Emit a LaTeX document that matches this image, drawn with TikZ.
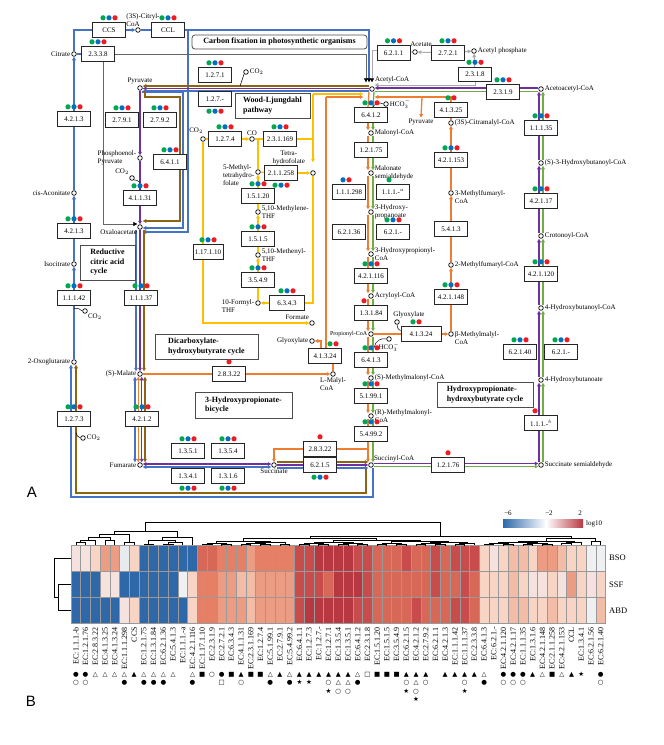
\documentclass[tikz,border=0pt]{standalone}
\usepackage{fontspec}
\setmainfont{Liberation Serif}
\newfontfamily\symfont{DejaVu Sans}
\newfontfamily\panelfont{Liberation Sans}
\usetikzlibrary{arrows.meta,backgrounds}

\definecolor{cyblue}{RGB}{68,114,196}
\definecolor{cypurple}{RGB}{112,48,160}
\definecolor{cybrown}{RGB}{140,100,20}
\definecolor{cyorange}{RGB}{237,125,49}
\definecolor{cygreen}{RGB}{112,173,71}
\definecolor{cyyellow}{RGB}{255,192,0}
\definecolor{cygray}{RGB}{170,170,170}
\definecolor{dg}{RGB}{0,166,80}
\definecolor{db}{RGB}{0,112,192}
\definecolor{dr}{RGB}{237,28,36}
\definecolor{hb}{RGB}{46,104,168}
\definecolor{hw}{RGB}{238,240,242}
\definecolor{hq}{RGB}{230,235,240}
\definecolor{h1}{RGB}{245,226,222}
\definecolor{h2}{RGB}{248,212,196}
\definecolor{h3}{RGB}{243,188,166}
\definecolor{h4}{RGB}{236,156,130}
\definecolor{h5}{RGB}{229,128,103}
\definecolor{h6}{RGB}{215,104,88}
\definecolor{h7}{RGB}{200,76,76}
\definecolor{h8}{RGB}{184,56,66}

% coloured dots above / below an enzyme box
\newcommand{\dotsup}[2]{\foreach \dc/\dx in {#2}{\fill[\dc] ([shift={(\dx,-4.6)}]#1.north) circle (2.6pt);}}
\newcommand{\dotsdn}[2]{\foreach \dc/\dx in {#2}{\fill[\dc] ([shift={(\dx,4.6)}]#1.south) circle (2.6pt);}}
\newcommand{\gbrup}[1]{\dotsup{#1}{dg/-6,db/0,dr/6}}
\newcommand{\gbrdn}[1]{\dotsdn{#1}{dg/-6,db/0,dr/6}}

\begin{document}
\begin{tikzpicture}[x=1pt,y=-1pt,>={Triangle[length=3.6pt,width=3.6pt]},
  enz/.style={draw=black!85, line width=0.7pt, fill=white, minimum width=33pt, minimum height=14.5pt, inner sep=0pt, font=\fontsize{7}{8}\selectfont},
  met/.style={circle, draw, line width=0.7pt, fill=white, inner sep=0pt, minimum size=4.6pt},
  lab/.style={font=\fontsize{7}{7.8}\selectfont, inner sep=1pt, align=left},
  ttl/.style={draw=black!70, line width=0.8pt, fill=white, font=\fontsize{8}{9.5}\selectfont\bfseries, align=left, inner sep=2pt},
  flow/.style={line width=1.3pt},
  lblue/.style={flow,cyblue}, lpurple/.style={flow,cypurple}, lbrown/.style={flow,cybrown},
  lorange/.style={flow,cyorange}, lgreen/.style={flow,cygreen}, lyellow/.style={flow,cyyellow},
  lgray/.style={line width=1pt,cygray}, ldark/.style={line width=0.7pt,black!60},
  curl/.style={line width=0.5pt,black},
  btip/.style={-{Triangle[length=4pt,width=4pt,color=black]}, shorten >=4pt},
  ar/.style={->}, na/.style={},
  cell/.style={draw=black!40, line width=0.6pt},
  dend/.style={line width=0.8pt,black},
  clab/.style={font=\fontsize{8}{9}\selectfont, inner sep=0pt},
  rlab/.style={font=\fontsize{8.5}{9}\selectfont, inner sep=0pt},
  sym/.style={font=\symfont\fontsize{6.5}{8.4}\selectfont, align=center, inner sep=0pt},
  leg/.style={font=\fontsize{7}{8}\selectfont, inner sep=0pt},
  panel/.style={font=\panelfont\fontsize{15}{15}\selectfont, inner sep=0pt}]

\useasboundingbox (0,0) rectangle (664,745);

% pathway titles
\node[ttl, rounded corners=3pt, minimum width=175pt, minimum height=14pt, align=center] (tCarbon) at (279.5,42) {Carbon fixation in photosynthetic organisms};
\node[ttl, minimum width=75pt, minimum height=25pt] (tWL) at (272.5,105.5) {Wood-Ljungdahl\\pathway};
\node[ttl, minimum width=55pt, minimum height=35pt] (tRCA) at (107.5,262.5) {Reductive\\citric acid\\cycle};
\node[ttl, minimum width=103pt, minimum height=25pt] (tDHB) at (206.5,346.5) {Dicarboxylate-\\hydroxybutyrate cycle};
\node[ttl, minimum width=97pt, minimum height=26pt] (t3HP) at (243.5,405) {3-Hydroxypropionate-\\bicycle};
\node[ttl, minimum width=96pt, minimum height=25pt] (tHPHB) at (485,394.5) {Hydroxypropionate-\\hydroxybutyrate cycle};

% metabolites
\node[met, label={[lab]left:Citrate}] (mCit) at (74,54) {};
\node[met, label={[lab,xshift=5pt]above:{(3S)-Citryl-\\CoA}}] (mCitryl) at (138,30) {};
\node[met, label={[lab]above:Pyruvate}] (mPyr) at (140,88) {};
\node[met, label={[lab,yshift=3pt]above right:Acetyl-CoA}] (mAcCoA) at (372,89) {};
\node[met, label={[lab,xshift=6pt,yshift=2pt]above:Acetate}] (mAcet) at (415,52) {};
\node[met, label={[lab]right:Acetyl phosphate}] (mAcP) at (474,51) {};
\node[met, label={[lab]right:Acetoacetyl-CoA}] (mAcAc) at (541,89) {};
\node[met, label={[lab]right:HCO$_3^-$}] (mHCO3a) at (386,104) {};
\node[met, label={[lab]right:CO$_2$}] (mCO2a) at (246,72) {};
\node[met, label={[lab]right:Malonyl-CoA}] (mMalCoA) at (371,133) {};
\node[met, label={[lab]right:(3S)-Citramalyl-CoA}] (mCitMal) at (451,123) {};
\node[met, label={[lab]right:(S)-3-Hydroxybutanoyl-CoA}] (mHBCoA) at (541,163) {};
\node[lab] (tPyr) at (421,122) {Pyruvate};
\node[met, label={[lab]left:{Phosphoenol-\\Pyruvate}}] (mPEP) at (140,158) {};
\node[met, label={[lab]above left:CO$_2$}] (mCO2b) at (132,178) {};
\node[met, label={[lab]below left:Oxaloacetate}] (mOAA) at (140,227) {};
\node[met, label={[lab]left:cis-Aconitate}] (mCisAc) at (74,193) {};
\node[met, label={[lab]left:Isocitrate}] (mIsoc) at (74,264) {};
\node[met, label={[lab]below right:CO$_2$}] (mCO2c) at (85,311) {};
\node[met, label={[lab]left:2-Oxoglutarate}] (m2OG) at (74,362) {};
\node[met, label={[lab]right:CO$_2$}] (mCO2d) at (83,438) {};
\node[met, label={[lab]left:(S)-Malate}] (mMal) at (140,374) {};
\node[met, label={[lab]left:Fumarate}] (mFum) at (140,465) {};
\node[met, label={[lab]below:Succinate}] (mSuc) at (274,465) {};
\node[met, label={[lab]above right:Succinyl-CoA}] (mSucCoA) at (371,465) {};
\node[met, label={[lab]right:Succinate semialdehyde}] (mSSA) at (541,465) {};
\node[met, label={[lab]right:4-Hydroxybutanoate}] (m4HB) at (541,380) {};
\node[met, label={[lab]right:4-Hydroxybutanoyl-CoA}] (m4HBCoA) at (541,308) {};
\node[met, label={[lab]right:Crotonoyl-CoA}] (mCro) at (541,236) {};
\node[met, label={[lab]right:{Malonate\\semialdehyde}}] (mMSA) at (371,173) {};
\node[met, label={[lab]right:{3-Hydroxy-\\propanoate}}] (m3HP) at (371,212) {};
\node[met, label={[lab]right:{3-Hydroxypropionyl-\\CoA}}] (m3HPCoA) at (371,254) {};
\node[met, label={[lab]right:Acryloyl-CoA}] (mAcr) at (371,296) {};
\node[met, label={[lab,font=\fontsize{6}{7}\selectfont]left:Propionyl-CoA}] (mProp) at (371,334) {};
\node[met, label={[lab]below:HCO$_3^-$}] (mHCO3b) at (389,339) {};
\node[met, label={[lab,xshift=12pt]above:Glyoxylate}] (mGly2) at (397,322) {};
\node[met, label={[lab]right:(S)-Methylmalonyl-CoA}] (mSMM) at (371,378) {};
\node[met, label={[lab]right:{(R)-Methylmalonyl-\\CoA}}] (mRMM) at (371,416) {};
\node[met, label={[lab,yshift=-4pt]right:{β-Methylmalyl-\\CoA}}] (mBMM) at (451,334) {};
\node[met, label={[lab,yshift=-4pt]right:{3-Methylfumaryl-\\CoA}}] (m3MF) at (451,193) {};
\node[met, label={[lab]right:2-Methylfumaryl-CoA}] (m2MF) at (451,265) {};
\node[met, label={[lab]left:Glyoxylate}] (mGly1) at (312,341) {};
\node[met, label={[lab]below:{L-Malyl-\\CoA}}] (mLMal) at (333,374) {};
\node[met, label={[lab]above left:Formate}] (mForm) at (312,323) {};
\node[met, label={[lab,yshift=-3pt]left:{10-Formyl-\\THF}}] (m10F) at (258,303) {};
\node[met, label={[lab]right:{5,10-Methenyl-\\THF}}] (mMeny) at (258,255) {};
\node[met, label={[lab]right:{5,10-Methylene-\\THF}}] (mMeth) at (258,212) {};
\node[met, label={[lab,yshift=-3pt]left:{5-Methyl-\\tetrahydro-\\folate}}] (m5M) at (258,172) {};
\node[met, label={[lab,align=center,xshift=-5pt,yshift=5pt]above left:{Tetra-\\hydrofolate}}] (mTHF) at (313,173) {};
\node[met, label={[lab,xshift=3pt,yshift=2pt]above left:CO$_2$}] (mCO2e) at (203,139) {};
\node[met, label={[lab]above:CO}] (mCO) at (252,139) {};

% enzymes
\node[enz] (eCCS) at (109,30) {CCS};
\node[enz] (eCCL) at (168,30) {CCL};
\node[enz] (e2338) at (98,54) {2.3.3.8};
\node[enz] (e4213a) at (74,119) {4.2.1.3};
\node[enz] (e2791) at (122,120) {2.7.9.1};
\node[enz] (e2792) at (160,120) {2.7.9.2};
\node[enz] (e1271) at (215,75) {1.2.7.1};
\node[enz] (e127x) at (215,99) {1.2.7.-};
\node[enz] (e1274) at (225,139) {1.2.7.4};
\node[enz] (e231169) at (280,139) {2.3.1.169};
\node[enz] (e6411) at (170,162) {6.4.1.1};
\node[enz] (e41131) at (140,198) {4.1.1.31};
\node[enz] (e4213b) at (74,231) {4.2.1.3};
\node[enz] (e11142) at (74,298) {1.1.1.42};
\node[enz] (e11137) at (141,298) {1.1.1.37};
\node[enz] (e1273) at (74,419) {1.2.7.3};
\node[enz] (e4212) at (142,419) {4.2.1.2};
\node[enz] (e1351) at (188,451) {1.3.5.1};
\node[enz] (e1354) at (228,451) {1.3.5.4};
\node[enz] (e1341) at (188,476) {1.3.4.1};
\node[enz] (e1316) at (228,476) {1.3.1.6};
\node[enz] (e28322a) at (229,374) {2.8.3.22};
\node[enz] (e28322b) at (320,449) {2.8.3.22};
\node[enz] (e6215) at (320,465) {6.2.1.5};
\node[enz] (e211258) at (281,173) {2.1.1.258};
\node[enz] (e1520) at (258,196) {1.5.1.20};
\node[enz] (e1515) at (258,239) {1.5.1.5};
\node[enz] (e3549) at (258,280) {3.5.4.9};
\node[enz, minimum width=35pt] (e6343) at (287,303) {6.3.4.3};
\node[enz, minimum width=30pt] (e117110) at (208,252) {1.17.1.10};
\node[enz] (e41324a) at (325,356) {4.1.3.24};
\node[enz] (e6211) at (393.5,53) {6.2.1.1};
\node[enz] (e2721) at (448,53) {2.7.2.1};
\node[enz] (e2318) at (475,74.5) {2.3.1.8};
\node[enz] (e2319) at (503,92) {2.3.1.9};
\node[enz] (e6412) at (371,115) {6.4.1.2};
\node[enz] (e41325) at (451,110) {4.1.3.25};
\node[enz] (e12175) at (371,150) {1.2.1.75};
\node[enz] (e421153) at (451,160) {4.2.1.153};
\node[enz] (e11135) at (541,128) {1.1.1.35};
\node[enz] (e111298) at (349,192) {1.1.1.298};
\node[enz] (e111xa) at (393,192) {1.1.1.-$^{a}$};
\node[enz] (e62136) at (349,232) {6.2.1.36};
\node[enz] (e621xa) at (393,232) {6.2.1.-};
\node[enz] (e421116) at (371,276) {4.2.1.116};
\node[enz] (e13184) at (371,313) {1.3.1.84};
\node[enz] (e5413) at (451,229) {5.4.1.3};
\node[enz] (e421148) at (451,297) {4.2.1.148};
\node[enz] (e42117) at (541,201) {4.2.1.17};
\node[enz] (e421120) at (541,274) {4.2.1.120};
\node[enz, minimum width=40pt] (e41324b) at (421,334) {4.1.3.24};
\node[enz] (e6413) at (371,360) {6.4.1.3};
\node[enz] (e51991) at (371,396) {5.1.99.1};
\node[enz] (e54992) at (371,434) {5.4.99.2};
\node[enz] (e12176) at (448,465) {1.2.1.76};
\node[enz] (e62140) at (520,352) {6.2.1.40};
\node[enz] (e621xb) at (561,352) {6.2.1.-};
\node[enz] (e111xb) at (541,423) {1.1.1.-$^{b}$};

\gbrup{eCCS} \gbrup{eCCL} \gbrup{e2338} \gbrup{e4213a} \gbrup{e2791} \gbrup{e2792}
\gbrup{e1271} \gbrdn{e127x} \gbrup{e1274} \gbrup{e231169} \gbrup{e6411} \gbrup{e41131}
\gbrup{e4213b} \gbrup{e11142} \gbrup{e11137} \gbrup{e1273} \gbrup{e4212}
\gbrup{e1351} \gbrup{e1354} \gbrdn{e1341} \gbrdn{e1316} \gbrdn{e6215}
\dotsup{e28322a}{dr/0} \dotsup{e28322b}{dr/0}
\gbrdn{e211258} \gbrup{e1520} \gbrup{e1515} \gbrup{e3549} \gbrup{e6343} \gbrup{e117110}
\dotsup{e41324a}{dg/5,dr/11}
\gbrup{e6211} \gbrup{e2721} \gbrup{e2318} \gbrup{e2319} \gbrup{e6412}
\dotsup{e41325}{dg/-3,dr/3} \gbrup{e421153} \gbrup{e11135}
\dotsup{e111298}{db/-6,dr/0} \dotsup{e111xa}{dg/-4} \gbrup{e621xa} \gbrup{e421116}
\dotsup{e13184}{dr/-7} \gbrup{e421148} \gbrup{e42117} \gbrup{e421120}
\dotsup{e41324b}{dg/-8,dr/-2} \gbrup{e6413} \gbrup{e51991} \gbrup{e54992}
\dotsup{e12176}{dr/0} \gbrup{e62140} \gbrup{e621xb} \dotsup{e111xb}{dr/-6}

\coordinate (jB1) at (188,30);
\coordinate (pB1) at (183,92);
\coordinate (pBr1) at (180,97);
\coordinate (jY) at (313,94);
\coordinate (jO) at (326,97);
\coordinate (jPy) at (422,97);
\coordinate (jOs) at (368,449);
\coordinate (fB) at (71,497);
\coordinate (fBr) at (76,493);

\begin{scope}[on background layer]
% reductive citric acid cycle
\draw[lblue] (mCit.north) |- (eCCS.west);
\draw[lblue,->] (eCCS) -- (mCitryl);
\draw[lblue] (mCitryl) -- (eCCL);
\draw[lblue,btip] (eCCL.east) -| ([xshift=-3pt]mAcCoA.north);
\draw[lblue,->] (jB1) |- ([yshift=-5pt]mOAA.east);
\draw[lblue] (mCit) -- (e2338);
\foreach \a/\b/\t in {m2OG/e11142/na, e11142/mIsoc/ar, mIsoc/e4213b/na, e4213b/mCisAc/ar, mCisAc/e4213a/na, e4213a/mCit/ar}
  \draw[lblue,\t] (\a) -- (\b);
\draw[lblue,->] ([xshift=-3pt]e1273.north) -- ([xshift=-3pt]m2OG.south);
\draw[lbrown,->] ([xshift=2pt]e1273.north) -- ([xshift=2pt]m2OG.south);
\draw[lblue] ([xshift=2pt]mSucCoA.south) |- (fB) -- ([xshift=-3pt]e1273.south);
\draw[lbrown] ([xshift=-5pt]mSucCoA.south) |- (fBr) -- ([xshift=2pt]e1273.south);
% pyruvate, oxaloacetate, malate, fumarate
\draw[lbrown,->] ([yshift=3pt]mAcCoA.west) -- ([yshift=3pt]mAcCoA.west -| mPyr.east);
\draw[lpurple,->] ([yshift=0.5pt]mAcCoA.west) -- ([yshift=0.5pt]mAcCoA.west -| mPyr.east);
\draw[lblue,->] ([yshift=-2pt]mAcCoA.west) -- ([yshift=-2pt]mAcCoA.west -| mPyr.east);
\draw[lblue,->] ([xshift=3pt]mPyr.south) |- (pB1) |- ([yshift=-1pt]mOAA.east);
\draw[lbrown] ([xshift=5pt]mPyr.south) |- (pBr1) -- (pBr1 |- e6411.north);
\draw[lbrown,->] (pBr1 |- e6411.south) |- ([yshift=6pt]mOAA.east);
\draw[lpurple,->] (mPyr) -- (mPEP);
\draw[lpurple,->] (mPEP) -- (mOAA);
\draw[ldark,btip,shorten >=0pt] ([xshift=5pt]e2338.south) |- ([yshift=3pt]mOAA.west);
\draw[lblue,->] ([xshift=-4pt]mOAA.south) -- ([xshift=-4pt]mMal.north);
\draw[lpurple,->] (mOAA) -- (mMal);
\draw[lbrown,->] ([xshift=4pt]mOAA.south) -- ([xshift=4pt]mMal.north);
\foreach \c/\dx in {lblue/-5, lorange/-1.7, lpurple/1.7, lbrown/5}
  \draw[\c,<->] ([xshift=\dx pt]mMal.south) -- ([xshift=\dx pt]mFum.north);
\draw[lpurple,<->] ([yshift=1pt]mFum.east) -- ([yshift=1pt]mSuc.west);
\draw[lblue,<->] ([yshift=-2pt]mFum.east) -- ([yshift=-2pt]mSuc.west);
\draw[lbrown,->] ([yshift=3pt]mSuc.east) -- ([yshift=3pt]mSucCoA.west);
\draw[lpurple,->] (mSuc) -- (mSucCoA);
\draw[lblue,->] ([yshift=-3pt]mSuc.east) -- ([yshift=-3pt]mSucCoA.west);
% acetyl-CoA side reactions
\draw[ldark,btip] (e2338.east) -| ([xshift=-6pt]mAcCoA.north);
\draw[lgray,btip] ([yshift=3pt]e6211.west) -| (mAcCoA.north);
\draw[lgray] (mAcet) -- (e6211);
\draw[lgray,->] (e2721) -- (mAcet);
\draw[lgray,->] (e2721) -- (mAcP);
\draw[lgray,->] (e2318) -- (mAcP);
\draw[lgray,->] (e2318.south) |- ([yshift=4pt]mAcCoA.east);
\draw[lpurple,->] ([yshift=1pt]mAcAc.west) -- ([yshift=1pt]mAcCoA.east);
\draw[lgreen] ([yshift=-2.5pt]mAcCoA.east) -- ([yshift=-2.5pt]mAcAc.west);
\draw[curl] (mCO2a.south west) -- ++(-4,12);
% Wood-Ljungdahl pathway
\draw[lyellow,->] (jY) -- ([xshift=-6pt]jY -| mAcCoA.west);
\draw[lyellow] (jY) -- (e231169.east -| jY);
\draw[lyellow] (e231169) -- (e231169.east -| jY);
\draw[lyellow,->,shorten >=8pt] (e231169.east -| jY) -- (mTHF.north);
\draw[lyellow] (mTHF.south) |- (e6343.east);
\draw[lyellow,->] (e6343) -- (m10F);
\draw[lyellow] (mCO2e) -- (mCO2e |- e117110.north);
\draw[lyellow,->] ([xshift=-5pt]e117110.south) |- (mForm.west);
\draw[lyellow] (mCO2e) -- (e1274);
\draw[lyellow,->] (e1274) -- (mCO);
\draw[lyellow] (mCO) -- (e231169);
\draw[lyellow] (m5M.north) -- (m5M |- mCO);
\draw[lyellow] (m5M) -- (e211258);
\draw[lyellow,->] (e211258) -- (mTHF);
\foreach \a/\b/\t in {m10F/e3549/na, e3549/mMeny/ar, mMeny/e1515/na, e1515/mMeth/ar, mMeth/e1520/na, e1520/m5M/ar}
  \draw[lyellow,\t] (\a) -- (\b);
% 3-hydroxypropionate bicycle
\draw[lorange,->] (jO) -- ([xshift=-6pt]jO -| mAcCoA.west);
\draw[lorange] (e41324a.north -| jO) -- (jO);
\draw[lorange,->] ([xshift=-4pt]e41324a.north) |- (mGly1.east);
\draw[lorange] (mLMal) -- (mLMal |- e41324a.south);
\draw[lorange] (mMal) -- (e28322a);
\draw[lorange,->] (e28322a) -- (mLMal);
\draw[lorange] (e41325.north) |- (jPy);
\draw[lorange,->] (jPy) -- ([yshift=-8pt]mAcCoA.east);
\draw[lorange,->] (jPy) -- (tPyr.north);
\foreach \a/\b/\t in {mAcCoA/e6412/na, e6412/mMalCoA/ar, mMalCoA/e12175/na, e12175/mMSA/ar, mMSA/m3HP/ar, m3HP/m3HPCoA/ar, m3HPCoA/e421116/na, e421116/mAcr/ar, mAcr/e13184/na, e13184/mProp/ar, mProp/e6413/na, e6413/mSMM/ar, mSMM/e51991/na, e51991/mRMM/ar, mRMM/e54992/na, e54992/mSucCoA/ar}{
  \draw[lorange,\t] ([xshift=-3pt]\a.south) -- ([xshift=-3pt]\b.north);
  \draw[lgreen,\t] ([xshift=2pt]\a.south) -- ([xshift=2pt]\b.north);
}
\draw[lorange] (mProp) -- (e41324b);
\draw[lorange,->] (e41324b) -- (mBMM);
\foreach \a/\b/\t in {mBMM/e421148/na, e421148/m2MF/ar, m2MF/e5413/na, e5413/m3MF/ar, m3MF/e421153/na, e421153/mCitMal/ar, mCitMal/e41325/na}
  \draw[lorange,\t] (\a) -- (\b);
\draw[lorange] (e28322b) -- (jOs);
\draw[lorange,->] (e28322b.west) -| (mSuc.north);
\draw[curl] (mHCO3a.west) to[bend right=50] ++(-11,4);
\draw[curl] (mHCO3b.west) to[bend right=50] ++(-12,8);
\draw[curl] (mGly2.south) to[bend right=30] ([yshift=3pt]e41324b.west);
% hydroxypropionate-hydroxybutyrate cycle
\draw[lpurple] ([yshift=1.5pt]mSucCoA.east) -- ([yshift=1.5pt]e12176.west);
\draw[lpurple,->] ([yshift=1.5pt]e12176.east) -- ([yshift=1.5pt]mSSA.west);
\draw[lgreen] ([yshift=-1.5pt]mSucCoA.east) -- ([yshift=-1.5pt]e12176.west);
\draw[lgreen,->] ([yshift=-1.5pt]e12176.east) -- ([yshift=-1.5pt]mSSA.west);
\foreach \a/\b/\t in {mSSA/e111xb/na, e111xb/m4HB/ar, m4HB/m4HBCoA/ar, m4HBCoA/e421120/na, e421120/mCro/ar, mCro/e42117/na, e42117/mHBCoA/ar, mHBCoA/e11135/na, e11135/mAcAc/ar}{
  \draw[lpurple,\t] ([xshift=-2pt]\a.north) -- ([xshift=-2pt]\b.south);
  \draw[lgreen,\t] ([xshift=2pt]\a.north) -- ([xshift=2pt]\b.south);
}
% CO2 hooks
\draw[curl] (mCO2b.south east) to[bend left=20] ([yshift=8pt]e41131.north);
\draw[curl] (mCO2c.west) to[bend right=30] ([yshift=-3pt]e11142.south);
\draw[curl] (mCO2d.west) to[bend left=30] ([xshift=2pt,yshift=-6pt]e1273.south);
\end{scope}

\node[panel] (pA) at (32,492) {A};
\node[panel] (pB) at (31,701) {B};

% heatmap
\foreach \c [count=\i] in {h1,h1,h2,h4,h4,hq,h2,hb,hb,hb,hb,hb,hb,h6,h6,h5,h5,h5,h4,h5,h5,h5,h5,h7,h7,h8,h8,h8,h8,h7,h7,h6,h6,h6,h7,h6,h6,h7,h6,h7,h7,h7,h2,h1,h2,h3,h3,h2,h4,h4,h3,h2,h2,hw,hw}
  \path[cell,fill=\c] ({71+(\i-1)*9.72},545) rectangle ++(9.72,26.2);
\foreach \c [count=\i] in {hb,hb,hb,h1,h1,hb,hb,hb,hb,hb,hb,hw,h2,h5,h5,h4,h4,h3,h3,h4,h4,h4,h4,h7,h7,h7,h6,h8,h8,h8,h7,h6,h6,h6,h6,h6,h6,h7,h6,h6,h7,h6,h2,h2,h2,h3,h2,h1,h1,h2,h1,h4,h2,h1,h2}
  \path[cell,fill=\c] ({71+(\i-1)*9.72},571.2) rectangle ++(9.72,26.2);
\foreach \c [count=\i] in {hb,hb,hb,hb,hb,h1,h2,hb,hb,hb,hb,hb,h2,h5,h5,h4,h4,h4,h3,h4,h4,h4,h4,h7,h8,h8,h8,h8,h8,h7,h7,h6,h6,h6,h6,h7,h6,h6,h6,h7,h7,h6,h2,h2,h2,h3,h3,h2,h2,h3,h2,h2,h2,hw,h3}
  \path[cell,fill=\c] ({71+(\i-1)*9.72},597.4) rectangle ++(9.72,26.2);

\node[rlab, anchor=west] (rBSO) at (609,558.1) {BSO};
\node[rlab, anchor=west] (rSSF) at (609,584.3) {SSF};
\node[rlab, anchor=west] (rABD) at (609,610.5) {ABD};

% row and column trees
\draw[dend] (71,584.3) -| (58,610.5) -- (71,610.5);
\draw[dend] (71,558.1) -| (54,597.4) -- (58,597.4);
\foreach \xl/\xr/\yt/\yl/\yr in {75.9/85.6/542/545/545, 80.8/95.3/540/542/545, 105.0/114.7/540/545/545, 88.0/109.9/537/540/540, 124.5/134.2/542/545/545, 99.0/129.4/534/537/542, 143.9/153.6/544/545/545, 163.3/173.0/544/545/545, 168.2/182.8/542/544/545, 148.8/175.5/540/544/542, 162.1/192.5/537/540/545, 114.2/177.3/531/534/537,
  202.2/211.9/544/545/545, 221.6/231.4/544.5/545/545, 207.0/226.5/543/544/544.5, 241.1/250.8/544.5/545/545, 260.5/270.2/544.5/545/545, 246.0/265.4/543.5/544.5/544.5, 280.0/289.7/544.5/545/545, 255.7/284.9/542.5/543.5/544.5, 216.8/270.3/541/543/542.5,
  299.4/309.1/544.5/545/545, 318.8/328.5/544.5/545/545, 304.3/323.7/543.5/544.5/544.5, 338.3/348.0/544.5/545/545, 357.7/367.4/544.5/545/545, 343.2/362.6/543.5/544.5/544.5, 314.0/352.9/542.5/543.5/543.5,
  377.1/386.8/544.5/545/545, 396.6/406.3/544.5/545/545, 382.0/401.5/543.5/544.5/544.5, 416.0/425.7/544.5/545/545, 435.4/445.1/544.5/545/545, 420.9/440.3/543.5/544.5/544.5, 454.9/464.6/544.5/545/545, 459.8/474.3/543.5/544.5/545, 430.6/467.0/542.5/543.5/543.5, 391.7/448.8/541.5/543.5/542.5, 333.4/420.3/540/542.5/541.5, 243.5/376.8/538/541/540,
  484.0/493.7/544/545/545, 503.4/513.2/544.5/545/545, 488.9/508.3/543/544/544.5, 522.9/532.6/544.5/545/545, 542.3/552.0/544.5/545/545, 527.8/547.2/543/544.5/544.5, 498.6/537.5/542/543/543, 561.7/571.5/543.5/545/545, 566.6/581.2/542.5/543.5/545, 518.0/573.9/541/542/542.5, 590.9/600.6/541.5/545/545, 546.0/595.8/538/541/541.5,
  310.2/570.9/536/538/538, 145.7/440.6/522/531/536}
  \draw[dend] (\xl,\yl) |- (\xr,\yt) -- (\xr,\yr);

% colour key
\shade[left color=hb, right color=white] (503,519) rectangle (546,527);
\shade[left color=white, right color=h8] (546,519) rectangle (583,527);
\node[leg] (k6) at (508,513) {−6};
\node[leg] (k2m) at (549,513) {−2};
\node[leg] (k2) at (580,513) {2};
\node[leg, anchor=west] (klog) at (586,524) {log10};

\foreach \l [count=\i] in {EC:1.1.1.-b, EC:1.2.1.76, EC:2.8.3.22, EC:4.1.3.25, EC:4.1.3.24, EC:1.1.1.298, CCS, EC:1.2.1.75, EC:1.3.1.84, EC:6.2.1.36, EC:5.4.1.3, EC:1.1.1.-a, EC:4.2.1.116, EC:1.17.1.10, EC:2.3.1.9, EC:2.7.2.1, EC:6.3.4.3, EC:4.1.1.31, EC:2.3.1.169, EC:1.2.7.4, EC:5.1.99.1, EC:2.7.9.1, EC:5.4.99.2, EC:6.4.1.1, EC:1.2.7.3, EC:1.2.7.-, EC:1.2.7.1, EC:1.3.5.4, EC:1.3.5.1, EC:6.4.1.2, EC:2.3.1.8, EC:1.5.1.20, EC:1.5.1.5, EC:3.5.4.9, EC:6.2.1.5, EC:4.2.1.2, EC:2.7.9.2, EC:6.2.1.1, EC:4.2.1.3, EC:1.1.1.42, EC:1.1.1.37, EC:2.3.3.8, EC:6.4.1.3, EC:6.2.1.-, EC:4.2.1.120, EC:4.2.1.17, EC:1.1.1.35, EC:1.3.1.6, EC:4.2.1.148, EC:2.1.1.258, EC:4.2.1.153, CCL, EC:1.3.4.1, EC:6.2.1.56, EC:6.2.1.40}
  \node[clab, rotate=90, anchor=east] (col\i) at ({71+(\i-0.5)*9.72},627) {\l};

\foreach \s [count=\i] in {{●\\○},{●\\○},△,△,△,{△\\●},▲,{△\\●},{△\\●},{△\\●},△,{},{△\\●},■,○,{●\\□},■,{▲\\○},■,■,{△\\●},▲,{△\\●},{▲\\★},{▲\\★},▲,{▲\\○\\★},{▲\\△\\○},{▲\\△\\○},{△\\●},□,■,■,■,{▲\\○\\★},{▲\\△\\○\\★},{▲\\○},{},▲,▲,{▲\\○\\★},▲,{△\\●},{},{●\\○},{●\\○},{●\\○},▲,△,■,△,▲,★,{},{●\\○}}
  \node[sym, anchor=north] (sym\i) at ({71+(\i-0.5)*9.72},672) {\s};

\end{tikzpicture}
\end{document}
